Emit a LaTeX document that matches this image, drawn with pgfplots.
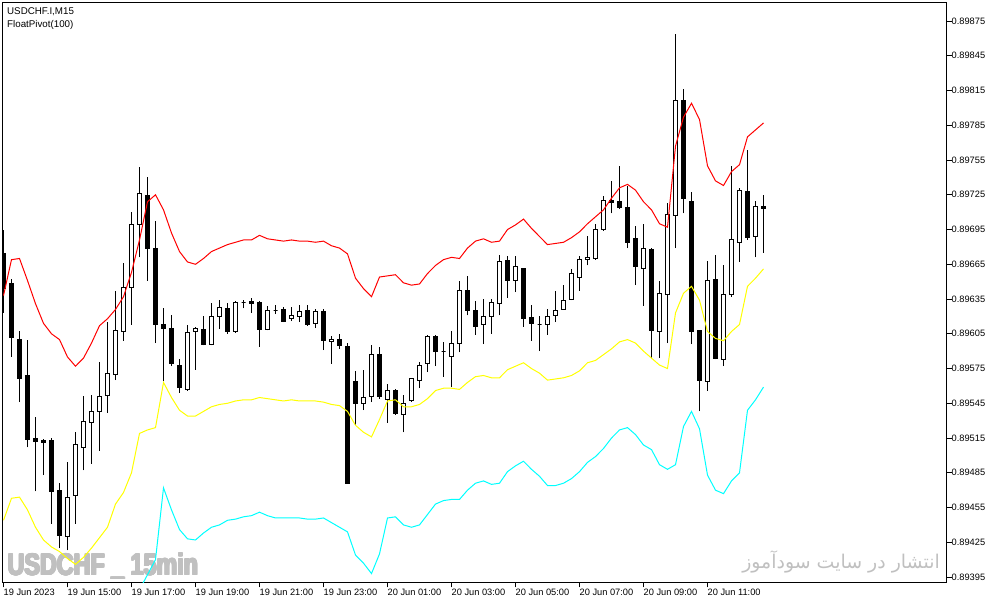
\documentclass[border=0pt]{standalone}
\usepackage{pgfplots}
\pgfplotsset{compat=1.18}
\usepackage{pgfplotstable}
\usepackage{graphicx}
\usepackage{fontspec}
\setmainfont{Liberation Sans}
\newfontfamily\arabicfont[Script=Arabic]{DejaVu Sans}
\TeXXeTstate=1
\definecolor{wm}{RGB}{192,192,192}
\definecolor{ylw}{RGB}{255,255,0}
\definecolor{cyn}{RGB}{0,255,255}
\definecolor{rd}{RGB}{255,0,0}

% rising (white) candles: index, open, high, low, close
\pgfplotstableread{
i o h l c
8 0.89430 0.89494 0.89418 0.89464
9 0.89465 0.89520 0.89441 0.89509
10 0.89507 0.89551 0.89487 0.89529
11 0.89528 0.89552 0.89493 0.89538
12 0.89538 0.89581 0.89504 0.89551
13 0.89552 0.89615 0.89537 0.89571
14 0.89570 0.89642 0.89565 0.89608
15 0.89607 0.89666 0.89599 0.89645
16 0.89645 0.89710 0.89613 0.89699
17 0.89699 0.89749 0.89671 0.89726
23 0.89557 0.89613 0.89556 0.89606
24 0.89607 0.89611 0.89574 0.89610
26 0.89596 0.89632 0.89595 0.89620
27 0.89620 0.89634 0.89609 0.89628
29 0.89607 0.89633 0.89606 0.89632
30 0.89632 0.89634 0.89627 0.89632
33 0.89609 0.89629 0.89608 0.89625
34 0.89625 0.89630 0.89622 0.89625
36 0.89618 0.89628 0.89616 0.89621
37 0.89620 0.89630 0.89615 0.89624
39 0.89614 0.89626 0.89610 0.89624
41 0.89598 0.89603 0.89579 0.89600
45 0.89545 0.89574 0.89539 0.89550
46 0.89551 0.89595 0.89546 0.89587
48 0.89548 0.89562 0.89528 0.89556
50 0.89535 0.89552 0.89520 0.89545
51 0.89547 0.89567 0.89546 0.89566
52 0.89565 0.89581 0.89558 0.89578
53 0.89579 0.89604 0.89572 0.89603
55 0.89590 0.89598 0.89568 0.89590
56 0.89585 0.89607 0.89559 0.89597
57 0.89597 0.89651 0.89589 0.89642
60 0.89613 0.89635 0.89596 0.89620
61 0.89620 0.89635 0.89605 0.89632
62 0.89631 0.89673 0.89621 0.89667
64 0.89651 0.89672 0.89641 0.89663
67 0.89613 0.89620 0.89590 0.89613
68 0.89613 0.89626 0.89604 0.89620
69 0.89621 0.89642 0.89615 0.89625
70 0.89626 0.89647 0.89626 0.89634
71 0.89635 0.89661 0.89634 0.89657
72 0.89654 0.89672 0.89642 0.89669
73 0.89669 0.89689 0.89664 0.89671
74 0.89670 0.89700 0.89669 0.89695
75 0.89695 0.89724 0.89694 0.89720
80 0.89661 0.89700 0.89629 0.89679
82 0.89607 0.89651 0.89584 0.89640
83 0.89639 0.89718 0.89597 0.89708
84 0.89707 0.89864 0.89679 0.89806
88 0.89564 0.89668 0.89556 0.89651
90 0.89583 0.89664 0.89577 0.89639
91 0.89639 0.89750 0.89637 0.89686
92 0.89684 0.89731 0.89667 0.89729
94 0.89689 0.89720 0.89671 0.89715
}\bulls

% falling (black) candles: index, open, high, low, close
\pgfplotstableread{
i o h l c
0 0.89674 0.89695 0.89623 0.89644
1 0.89648 0.89652 0.89585 0.89602
2 0.89600 0.89607 0.89546 0.89566
3 0.89569 0.89600 0.89507 0.89514
4 0.89515 0.89533 0.89469 0.89512
5 0.89513 0.89514 0.89483 0.89511
6 0.89513 0.89515 0.89441 0.89469
7 0.89470 0.89476 0.89420 0.89431
18 0.89724 0.89740 0.89651 0.89679
19 0.89679 0.89702 0.89597 0.89613
20 0.89613 0.89627 0.89564 0.89610
21 0.89610 0.89621 0.89577 0.89579
22 0.89578 0.89583 0.89554 0.89559
25 0.89609 0.89620 0.89595 0.89596
28 0.89627 0.89632 0.89605 0.89607
31 0.89633 0.89636 0.89623 0.89631
32 0.89632 0.89633 0.89594 0.89609
35 0.89626 0.89628 0.89615 0.89616
38 0.89625 0.89630 0.89612 0.89613
40 0.89624 0.89626 0.89591 0.89599
42 0.89600 0.89605 0.89592 0.89595
43 0.89594 0.89597 0.89476 0.89476
44 0.89564 0.89573 0.89526 0.89545
47 0.89587 0.89594 0.89549 0.89551
49 0.89556 0.89557 0.89535 0.89536
54 0.89603 0.89604 0.89577 0.89590
58 0.89642 0.89655 0.89621 0.89625
59 0.89625 0.89633 0.89604 0.89611
63 0.89668 0.89672 0.89636 0.89651
65 0.89661 0.89662 0.89611 0.89618
66 0.89619 0.89630 0.89599 0.89614
76 0.89720 0.89737 0.89709 0.89718
77 0.89719 0.89750 0.89713 0.89714
78 0.89714 0.89733 0.89679 0.89684
79 0.89687 0.89698 0.89647 0.89663
81 0.89678 0.89679 0.89584 0.89608
85 0.89806 0.89816 0.89709 0.89722
86 0.89719 0.89727 0.89596 0.89607
87 0.89608 0.89608 0.89538 0.89565
89 0.89652 0.89673 0.89583 0.89584
93 0.89728 0.89764 0.89686 0.89688
95 0.89715 0.89725 0.89675 0.89713
}\bears

% FloatPivot upper (r) and middle (m) lines
\pgfplotstableread{
i r m
0 0.89638 0.89444
1 0.89669 0.89463
2 0.89670 0.89464
3 0.89651 0.89453
4 0.89631 0.89438
5 0.89614 0.89427
6 0.89605 0.89421
7 0.89600 0.89417
8 0.89585 0.89411
9 0.89577 0.89406
10 0.89584 0.89412
11 0.89597 0.89420
12 0.89612 0.89429
13 0.89618 0.89438
14 0.89626 0.89458
15 0.89637 0.89468
16 0.89658 0.89485
17 0.89686 0.89519
18 0.89719 0.89522
19 0.89725 0.89524
20 0.89712 0.89563
21 0.89692 0.89550
22 0.89676 0.89539
23 0.89667 0.89534
24 0.89665 0.89534
25 0.89670 0.89538
26 0.89676 0.89542
27 0.89679 0.89544
28 0.89682 0.89545
29 0.89684 0.89547
30 0.89686 0.89548
31 0.89686 0.89548
32 0.89690 0.89550
33 0.89687 0.89549
34 0.89686 0.89548
35 0.89685 0.89547
36 0.89686 0.89548
37 0.89685 0.89547
38 0.89685 0.89547
39 0.89684 0.89547
40 0.89685 0.89546
41 0.89681 0.89544
42 0.89679 0.89543
43 0.89674 0.89538
44 0.89653 0.89526
45 0.89644 0.89520
46 0.89637 0.89516
47 0.89654 0.89531
48 0.89655 0.89547
49 0.89656 0.89548
50 0.89649 0.89542
51 0.89647 0.89542
52 0.89648 0.89544
53 0.89657 0.89549
54 0.89664 0.89556
55 0.89669 0.89558
56 0.89671 0.89558
57 0.89670 0.89557
58 0.89679 0.89563
59 0.89685 0.89568
60 0.89687 0.89569
61 0.89684 0.89567
62 0.89685 0.89567
63 0.89695 0.89574
64 0.89699 0.89577
65 0.89704 0.89580
66 0.89696 0.89575
67 0.89689 0.89571
68 0.89682 0.89565
69 0.89683 0.89566
70 0.89684 0.89567
71 0.89688 0.89569
72 0.89693 0.89573
73 0.89700 0.89580
74 0.89706 0.89582
75 0.89712 0.89587
76 0.89722 0.89592
77 0.89731 0.89598
78 0.89734 0.89600
79 0.89729 0.89597
80 0.89719 0.89590
81 0.89712 0.89584
82 0.89700 0.89578
83 0.89697 0.89575
84 0.89767 0.89623
85 0.89792 0.89640
86 0.89804 0.89646
87 0.89790 0.89634
88 0.89750 0.89607
89 0.89737 0.89601
90 0.89733 0.89599
91 0.89745 0.89607
92 0.89751 0.89613
93 0.89775 0.89646
94 0.89781 0.89653
95 0.89787 0.89661
}\bands

% FloatPivot lower line
\pgfplotstableread{
i b
17 0.89384
18 0.89397
19 0.89410
20 0.89472
21 0.89453
22 0.89436
23 0.89428
24 0.89427
25 0.89433
26 0.89438
27 0.89440
28 0.89444
29 0.89445
30 0.89447
31 0.89448
32 0.89451
33 0.89448
34 0.89446
35 0.89446
36 0.89446
37 0.89446
38 0.89445
39 0.89445
40 0.89446
41 0.89442
42 0.89438
43 0.89434
44 0.89414
45 0.89407
46 0.89398
47 0.89415
48 0.89446
49 0.89447
50 0.89440
51 0.89438
52 0.89440
53 0.89449
54 0.89458
55 0.89461
56 0.89462
57 0.89462
58 0.89470
59 0.89476
60 0.89478
61 0.89475
62 0.89476
63 0.89486
64 0.89491
65 0.89495
66 0.89488
67 0.89482
68 0.89474
69 0.89474
70 0.89476
71 0.89480
72 0.89486
73 0.89494
74 0.89499
75 0.89506
76 0.89515
77 0.89522
78 0.89524
79 0.89518
80 0.89509
81 0.89505
82 0.89492
83 0.89488
84 0.89492
85 0.89525
86 0.89538
87 0.89523
88 0.89483
89 0.89470
90 0.89467
91 0.89478
92 0.89485
93 0.89539
94 0.89548
95 0.89559
}\lowband

\pgfplotsset{candle/.style={draw=black, line width=1bp, solid, mark=none}}

% #1 table, #2 body fill, #3 body bottom column, #4 body top column
\newcommand\drawcandles[4]{%
  \pgfplotstablegetrowsof{#1}%
  \pgfmathtruncatemacro\nrows{\pgfplotsretval-1}%
  \pgfplotsforeachungrouped \k in {0,...,\nrows}{%
    \pgfplotstablegetelem{\k}{i}\of#1\let\ci\pgfplotsretval
    \pgfplotstablegetelem{\k}{h}\of#1\let\ch\pgfplotsretval
    \pgfplotstablegetelem{\k}{l}\of#1\let\cl\pgfplotsretval
    \pgfplotstablegetelem{\k}{#3}\of#1\let\cbot\pgfplotsretval
    \pgfplotstablegetelem{\k}{#4}\of#1\let\ctop\pgfplotsretval
    \pgfmathsetmacro\xa{\ci-0.25}%
    \pgfmathsetmacro\xb{\ci+0.25}%
    \edef\tmp{%
      \noexpand\addplot[candle] coordinates {(\ci,\cl) (\ci,\ch)};
      \noexpand\addplot[candle, fill=#2] coordinates {(\xa,\cbot) (\xb,\cbot) (\xb,\ctop) (\xa,\ctop)} --cycle;
    }%
    \tmp
  }%
}

\begin{document}
\begin{tikzpicture}
\path[use as bounding box] (0,0) rectangle (1002bp,604bp);
% watermarks (heavy text: the same text laid a few times with tiny offsets)
\foreach \dx in {-0.8,-0.4,0,0.4,0.8}{
  \foreach \dy in {-0.3,0,0.3}{
    \node[anchor=base west, inner sep=0pt, text=wm] at (7.5bp+\dx bp,29bp+\dy bp)
      {\fontsize{30.3}{31}\selectfont\bfseries\scalebox{0.772}[1]{USDCHF \_ 15min}};
  }
}
\node[anchor=base east, inner sep=0pt, text=wm] at (940bp,36bp)
  {\arabicfont\fontsize{19}{21}\selectfont\beginR انتشار در سایت سودآموز\endR};

\begin{axis}[
  at={(2.5bp,21.5bp)}, anchor=south west,
  width=944bp, height=580bp, scale only axis,
  xmin=-0.125, xmax=117.875,
  ymin=0.893903, ymax=0.898910,
  axis line style={line width=1bp, black},
  tick style={line width=1bp, black},
  tick align=outside,
  major tick length=5bp,
  xtick pos=bottom, ytick pos=right,
  yticklabel pos=right,
  xtick={0,8,16,24,32,40,48,56,64,72,80,88},
  xticklabels={19 Jun 2023,19 Jun 15:00,19 Jun 17:00,19 Jun 19:00,19 Jun 21:00,19 Jun 23:00,20 Jun 01:00,20 Jun 03:00,20 Jun 05:00,20 Jun 07:00,20 Jun 09:00,20 Jun 11:00},
  ytick={0.89395,0.89425,0.89455,0.89485,0.89515,0.89545,0.89575,0.89605,0.89635,0.89665,0.89695,0.89725,0.89755,0.89785,0.89815,0.89845,0.89875},
  scaled y ticks=false,
  ticklabel style={font=\fontsize{9.3}{10}\selectfont, inner sep=0pt},
  xticklabel style={anchor=north west, yshift=-1bp},
  yticklabel style={anchor=west, /pgf/number format/.cd, fixed, fixed zerofill, precision=5, assume math mode=true},
  clip=true,
]
\drawcandles{\bulls}{white}{o}{c}
\drawcandles{\bears}{black}{c}{o}
\addplot[rd, line width=1bp, mark=none] table[x=i, y=r] {\bands};
\addplot[ylw, line width=1bp, mark=none] table[x=i, y=m] {\bands};
\addplot[cyn, line width=1bp, mark=none] table[x=i, y=b] {\lowband};
\end{axis}
\node[anchor=base west, inner sep=0pt, font=\fontsize{9.8}{11}\selectfont] at (7bp,589bp) {USDCHF.I,M15};
\node[anchor=base west, inner sep=0pt, font=\fontsize{9.8}{11}\selectfont] at (7bp,576bp) {FloatPivot(100)};
\end{tikzpicture}
\end{document}
